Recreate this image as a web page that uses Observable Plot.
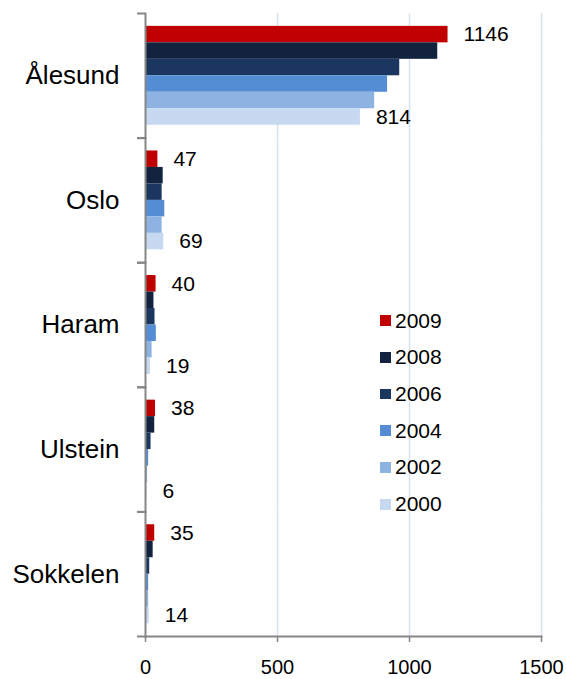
<!DOCTYPE html>
<html>
<head>
<meta charset="utf-8">
<script src="https://cdn.jsdelivr.net/npm/d3@7"></script>
<script src="https://cdn.jsdelivr.net/npm/@observablehq/plot@0.6"></script>
<style>
  html, body { margin: 0; padding: 0; background: #fff; }
  #wrap { position: relative; width: 566px; height: 679px; font-family: "Liberation Sans", Arial, sans-serif; }
  #legend { position: absolute; left: 380px; top: 302.4px; }
  .row { display: flex; align-items: center; height: 36.7px; font-size: 21px; color: #000; }
  .sw { width: 10.7px; height: 10.7px; margin-right: 4.3px; }
</style>
</head>
<body>
<div id="wrap"><div id="legend"></div></div>
<script>
const cities = ["Ålesund", "Oslo", "Haram", "Ulstein", "Sokkelen"];
const years = ["2009", "2008", "2006", "2004", "2002", "2000"];
const v2009 = [1146, 47, 40, 38, 35];
const v2008 = [1107, 67, 32, 35, 29];
const v2006 = [963, 63, 36, 21, 16];
const v2004 = [917, 73, 41, 12, 12];
const v2002 = [868, 63, 25, 8, 12];
const v2000 = [814, 69, 19, 6, 14];
const colors = ["#c00000", "#11233f", "#1b365f", "#548dd4", "#8db3e2", "#c6d9f1"];
const xTicks = [0, 500, 1000, 1500];
const labelYears = ["2009", "2000"];

const series = [v2009, v2008, v2006, v2004, v2002, v2000];
const data = [];
cities.forEach((c, i) => years.forEach((y, j) => data.push({city: c, year: y, value: series[j][i]})));

const gray = "#868686";
const halfBand = (679 - 13 - 43) / cities.length / 2;

const chart = Plot.plot({
  width: 566,
  height: 679,
  marginLeft: 145,
  marginRight: 25,
  marginTop: 13,
  marginBottom: 43,
  style: {fontFamily: "Liberation Sans, Arial, sans-serif", background: "transparent"},
  x: {domain: [0, 1500]},
  y: {domain: years, paddingInner: 0, paddingOuter: 0.78, round: false, axis: null},
  fy: {domain: cities, padding: 0, round: false},
  color: {domain: years, range: colors},
  marks: [
    Plot.gridX({ticks: xTicks.slice(1), stroke: "#d6e2f0", strokeOpacity: 1, strokeWidth: 1.5}),
    Plot.barX(data, {x: "value", y: "year", fy: "city", fill: "year"}),
    Plot.text(data, {filter: d => labelYears.includes(d.year), x: "value", y: "year", fy: "city",
      text: d => String(d.value), dx: 15.5, textAnchor: "start", fontSize: 21, fill: "#000"}),
    Plot.frame({anchor: "left", stroke: gray, strokeWidth: 2}),
    Plot.frame({anchor: "bottom", facetAnchor: "bottom", stroke: gray, strokeWidth: 2}),
    Plot.axisFy({anchor: "left", tickSize: 8, tickFormat: null, label: null, dy: -halfBand, stroke: gray, strokeWidth: 2}),
    Plot.axisFy({anchor: "left", tickSize: 8, tickFormat: null, label: null, dy: halfBand, stroke: gray, strokeWidth: 2}),
    Plot.axisFy({anchor: "left", tickSize: 0, tickPadding: 26, label: null, fontSize: 26, fill: "#000"}),
    Plot.axisX({ticks: xTicks, tickFormat: d => String(d), tickSize: 6, tickPadding: 17.5, label: null, fontSize: 20, fill: "#000", stroke: gray, strokeWidth: 1.5})
  ]
});
document.getElementById("wrap").prepend(chart);

const legend = document.getElementById("legend");
years.forEach((y, j) => {
  const row = document.createElement("div");
  row.className = "row";
  const sw = document.createElement("div");
  sw.className = "sw";
  sw.style.background = colors[j];
  const t = document.createElement("span");
  t.textContent = y;
  row.append(sw, t);
  legend.append(row);
});
</script>
</body>
</html>
